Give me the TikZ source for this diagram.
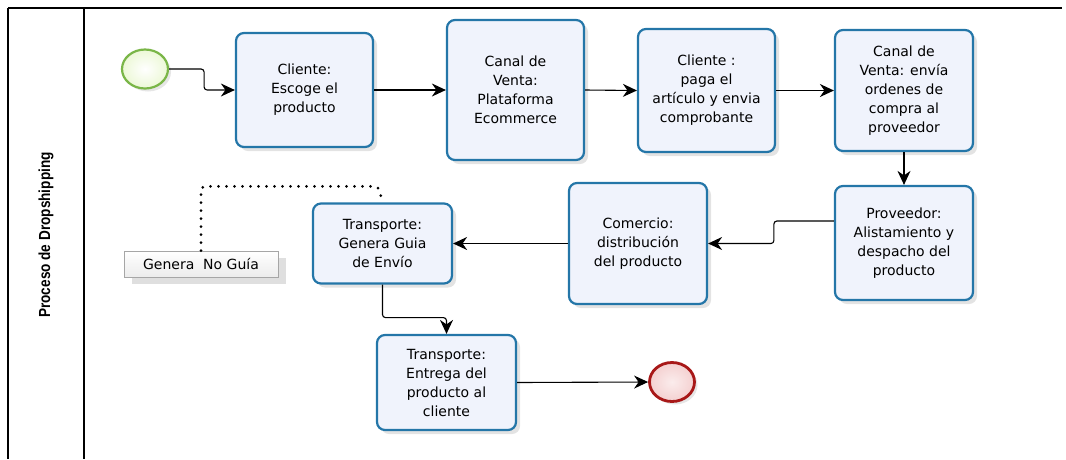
\documentclass[tikz,border=0pt]{standalone}
\usepackage{fontspec}
\setmainfont{DejaVu Sans}
\newfontfamily\lanefont[FakeStretch=0.85]{Liberation Sans}
\usetikzlibrary{arrows.meta,shadows,calc,shapes.geometric}
\definecolor{boxblue}{RGB}{36,118,168}
\definecolor{boxfill}{RGB}{240,243,252}
\definecolor{startgreen}{RGB}{122,182,72}
\definecolor{startfill}{RGB}{236,248,214}
\definecolor{endred}{RGB}{168,24,24}
\definecolor{endfill}{RGB}{244,208,208}
\tikzset{
  task/.style={draw=boxblue, line width=2.2pt, rounded corners=8pt, fill=boxfill,
    align=center, inner sep=0pt, font=\fontsize{14}{19}\selectfont,
    drop shadow={opacity=0.22, shadow xshift=4pt, shadow yshift=-4pt}},
  flow/.style={draw=black, line width=1.1pt, rounded corners=3pt,
    -{Stealth[length=14pt,width=13pt,inset=4.5pt]}},
  evstart/.style={ellipse, draw=startgreen, line width=2.2pt, inner sep=0pt,
    minimum width=46pt, minimum height=39pt, inner color=white, outer color=startfill,
    drop shadow={opacity=0.2, shadow xshift=3pt, shadow yshift=-3pt}},
  evend/.style={ellipse, draw=endred, line width=2.8pt, inner sep=0pt,
    minimum width=45pt, minimum height=39pt, inner color=white!60!endfill, outer color=endfill,
    drop shadow={opacity=0.2, shadow xshift=3pt, shadow yshift=-3pt}},
  note/.style={draw=gray!70, line width=0.6pt, top color=white, bottom color=gray!15,
    inner sep=0pt, font=\fontsize{14}{16}\selectfont,
    drop shadow={opacity=0.25, shadow xshift=8pt, shadow yshift=-7pt}},
  assoc/.style={line width=3pt, line cap=round, dash pattern=on 0pt off 8pt, rounded corners=4pt},
}
\begin{document}
\begin{tikzpicture}[x=1pt,y=-1pt]
\useasboundingbox (0,0) rectangle (1066,459);
% pool frame
\draw[line width=2pt] (8,8) -- (1062,8);
\draw[line width=1.4pt] (8,8) -- (8,459);
\draw[line width=1.4pt] (84,8) -- (84,459);
\node[rotate=90, font=\lanefont\bfseries\fontsize{16}{18}\selectfont] (lane) at (46,235) {Proceso de Dropshipping};

% events
\node[evstart] (start) at (145,69) {};
\node[evend] (end) at (672,382) {};

% tasks
\node[task, minimum width=137pt, minimum height=114pt] (b1) at (304.5,90) {Cliente:\\Escoge el\\producto};
\node[task, minimum width=137pt, minimum height=140pt] (b2) at (515.5,90) {Canal de\\Venta:\\Plataforma\\Ecommerce};
\node[task, minimum width=137pt, minimum height=123pt] (b3) at (706.5,90.5) {Cliente :\\paga el\\artículo y envia\\comprobante};
\node[task, minimum width=138pt, minimum height=121pt] (b4) at (904,90.5) {Canal de\\Venta: envía\\ordenes de\\compra al\\proveedor};
\node[task, minimum width=138pt, minimum height=114pt] (b5) at (904,243) {Proveedor:\\Alistamiento y\\despacho del\\producto};
\node[task, minimum width=138pt, minimum height=121pt] (b6) at (638,243.5) {Comercio:\\distribución\\del producto};
\node[task, minimum width=139pt, minimum height=80pt] (b7) at (382.5,243.5) {Transporte:\\Genera Guia\\de Envío};
\node[task, minimum width=139pt, minimum height=95pt] (b8) at (446.5,382.5) {Transporte:\\Entrega del\\producto al\\cliente};

% annotation
\node[note, minimum width=154pt, minimum height=26pt] (ann) at (201,264) {Genera\ \ No Guía};

% flows
\draw[flow] (start.east) -- ++(35,0) |- (b1.west);
\draw[flow] (b1.east) -- (b2.west);
\draw[flow] (b2.east) -- (b3.west);
\draw[flow] (b3.east) -- (b4.west);
\draw[flow] (b4.south) -- (b5.north);
\draw[flow] ([yshift=22pt]b5.west) -- ++(-60,0) |- (b6.east);
\draw[flow] (b6.west) -- (b7.east);
\draw[flow] (b7.south) -- ++(0,33) -| (b8.north);
\draw[flow] (b8.east) -- (end.west);

% association
\draw[assoc] (ann.north) |- ($(b7.north)+(-4,-16)$) -- (b7.north);
\end{tikzpicture}
\end{document}
